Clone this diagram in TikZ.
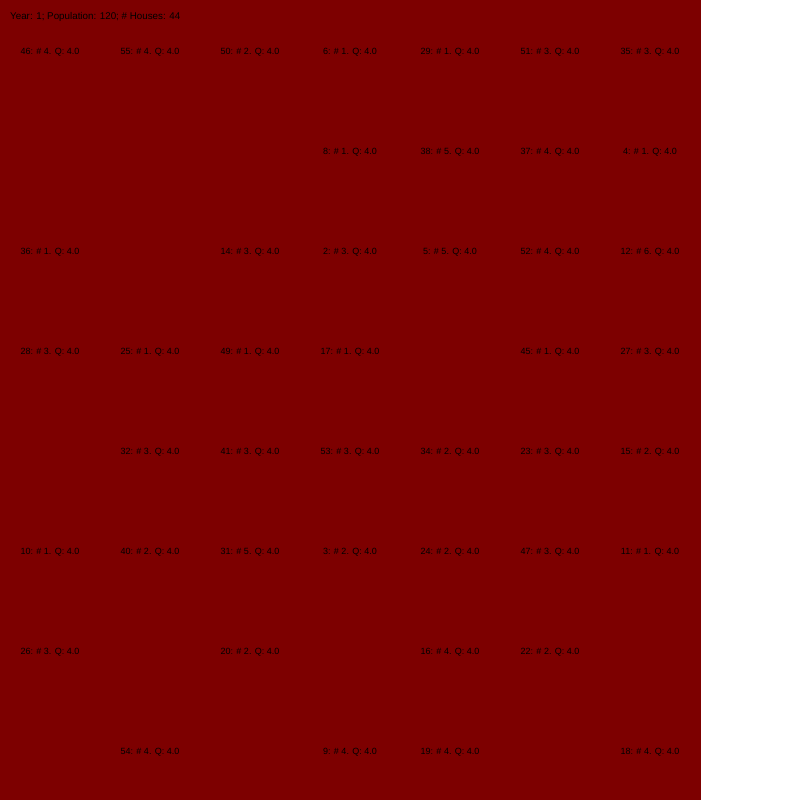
\documentclass[tikz,border=0pt]{standalone}
\usepackage{fontspec}
\setmainfont{Liberation Sans}
\definecolor{bgred}{RGB}{125,0,0}
\tikzset{
  cell/.style={inner sep=0pt, text=black, font=\fontsize{9}{11}\selectfont, anchor=center},
  titletext/.style={inner sep=0pt, text=black, font=\fontsize{9.8}{11}\selectfont, anchor=west}
}
\begin{document}
\begin{tikzpicture}[x=1pt,y=-1pt]
\useasboundingbox (0,0) rectangle (800,800);
\fill[bgred] (0,0) rectangle (701,800);
\node[titletext] (title) at (10,17) {Year: 1; Population: 120; \# Houses: 44};
\foreach \c/\r/\n/\h in {
 0/0/46/4, 1/0/55/4, 2/0/50/2, 3/0/6/1, 4/0/29/1, 5/0/51/3, 6/0/35/3,
 3/1/8/1, 4/1/38/5, 5/1/37/4, 6/1/4/1,
 0/2/36/1, 2/2/14/3, 3/2/2/3, 4/2/5/5, 5/2/52/4, 6/2/12/6,
 0/3/28/3, 1/3/25/1, 2/3/49/1, 3/3/17/1, 5/3/45/1, 6/3/27/3,
 1/4/32/3, 2/4/41/3, 3/4/53/3, 4/4/34/2, 5/4/23/3, 6/4/15/2,
 0/5/10/1, 1/5/40/2, 2/5/31/5, 3/5/3/2, 4/5/24/2, 5/5/47/3, 6/5/11/1,
 0/6/26/3, 2/6/20/2, 4/6/16/4, 5/6/22/2,
 1/7/54/4, 3/7/9/4, 4/7/19/4, 6/7/18/4}
{
  \node[cell] (h\n) at ({50+100*\c},{52.5+100*\r}) {\n: \# \h. Q: 4.0};
}
\end{tikzpicture}
\end{document}
